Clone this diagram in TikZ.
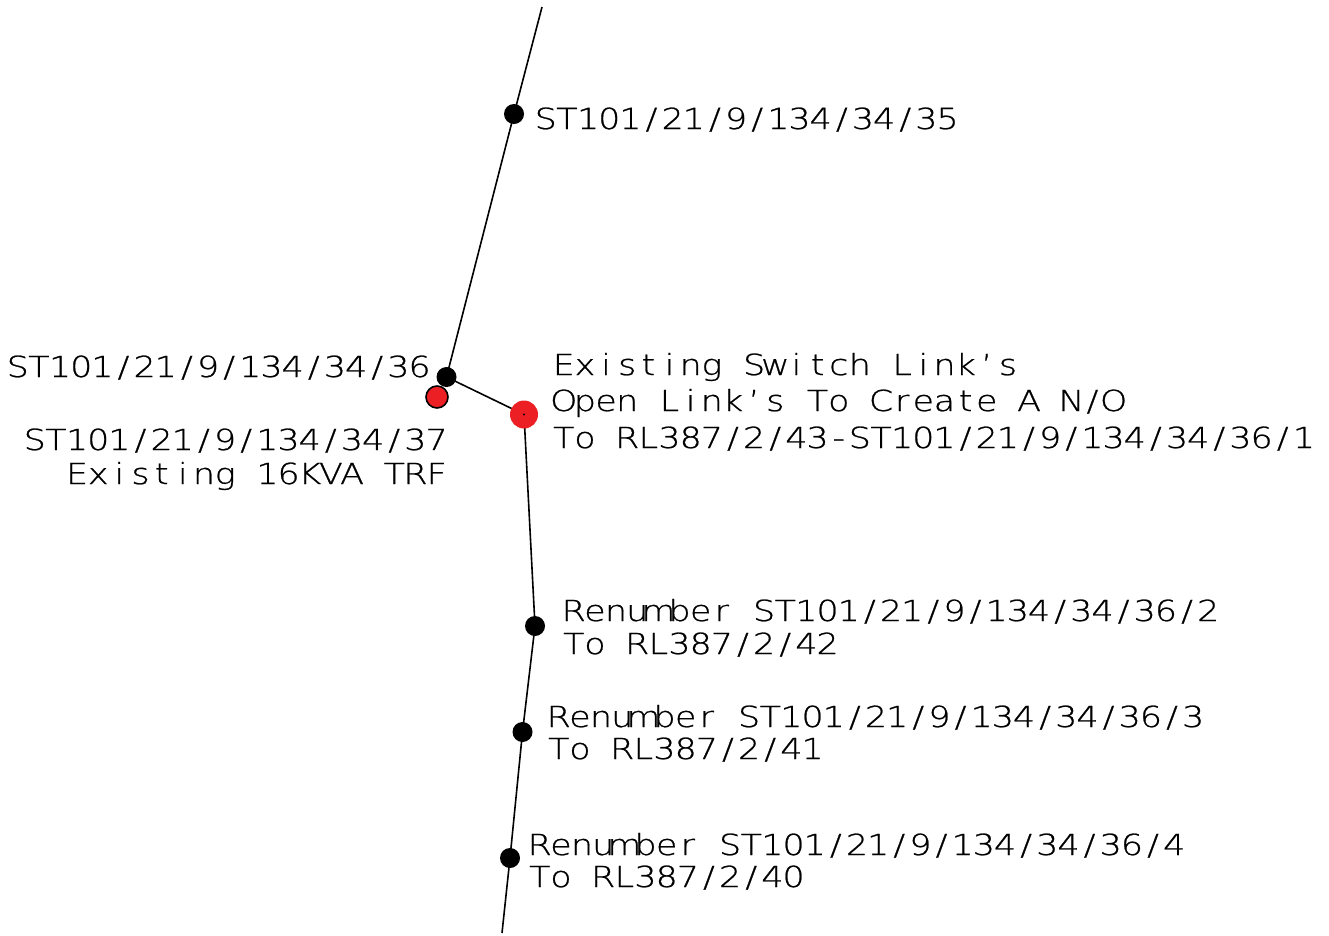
\documentclass[tikz,border=0pt]{standalone}
\usepackage{fontspec}
\usetikzlibrary{backgrounds}
\newfontfamily\cadfont[FakeStretch=1.2,FakeBold=0.8]{DejaVu Sans ExtraLight}
\definecolor{cadred}{RGB}{236,32,36}
\newlength\cadcw
\setlength\cadcw{21.15pt}
\makeatletter
\def\cadmono#1{\cad@loop#1\relax}
\def\cad@loop#1{\ifx#1\relax\else\makebox[\cadcw][c]{#1}\expandafter\cad@loop\fi}
\makeatother
\begin{document}
\begin{tikzpicture}[x=1pt,y=-1pt,
  wire/.style={line width=1.6pt,black},
  pole/.style={circle,fill=black,inner sep=0pt,minimum size=20pt},
  switchnode/.style={circle,fill=cadred,inner sep=0pt,minimum size=28pt},
  trf/.style={circle,fill=cadred,draw=black,line width=1.6pt,inner sep=0pt,minimum size=22pt},
  lbl/.style={anchor=base west,inner sep=0pt,font=\cadfont\fontsize{29}{33}\selectfont}]
\useasboundingbox (0,0) rectangle (1329,935);
\coordinate (top) at (542,7);
\coordinate (bot) at (502,933);
\node[trf] (t37) at (437,397) {};
\node[pole] (p35) at (514,114) {};
\node[pole] (p36) at (446.5,377) {};
\node[switchnode] (sw) at (524,414.5) {};
\fill (sw.center) circle (1.2pt);
\node[pole] (p2) at (535,626) {};
\node[pole] (p3) at (522.5,732) {};
\node[pole] (p4) at (510,858) {};
\begin{pgfonlayer}{background}
\draw[wire] (top) -- (p35.center) -- (p36.center) -- (sw.center) -- (p2.center) -- (p3.center) -- (p4.center) -- (bot);
\end{pgfonlayer}
% labels
\node[lbl] (l35) at (535,129) {\cadmono{ST101/21/9/134/34/35}};
\node[lbl] (l36) at (7,377) {\cadmono{ST101/21/9/134/34/36}};
\node[lbl] (l37a) at (24,450) {\cadmono{ST101/21/9/134/34/37}};
\node[lbl] (l37b) at (24,484) {\cadmono{~~Existing~16KVA~TRF}};
\node[lbl] (s1) at (553,375) {\cadmono{Existing~Switch~Link’s}};
\node[lbl] (s2) at (553,411) {\cadmono{Open~Link’s~To~Create~A~N/O}};
\node[lbl] (s3) at (553,448) {\cadmono{To~RL387/2/43-ST101/21/9/134/34/36/1}};
\node[lbl] (r2a) at (563,621) {\cadmono{Renumber~ST101/21/9/134/34/36/2}};
\node[lbl] (r2b) at (563,654) {\cadmono{To~RL387/2/42}};
\node[lbl] (r3a) at (548,727) {\cadmono{Renumber~ST101/21/9/134/34/36/3}};
\node[lbl] (r3b) at (548,759) {\cadmono{To~RL387/2/41}};
\node[lbl] (r4a) at (529,855) {\cadmono{Renumber~ST101/21/9/134/34/36/4}};
\node[lbl] (r4b) at (529,887) {\cadmono{To~RL387/2/40}};
\end{tikzpicture}
\end{document}
